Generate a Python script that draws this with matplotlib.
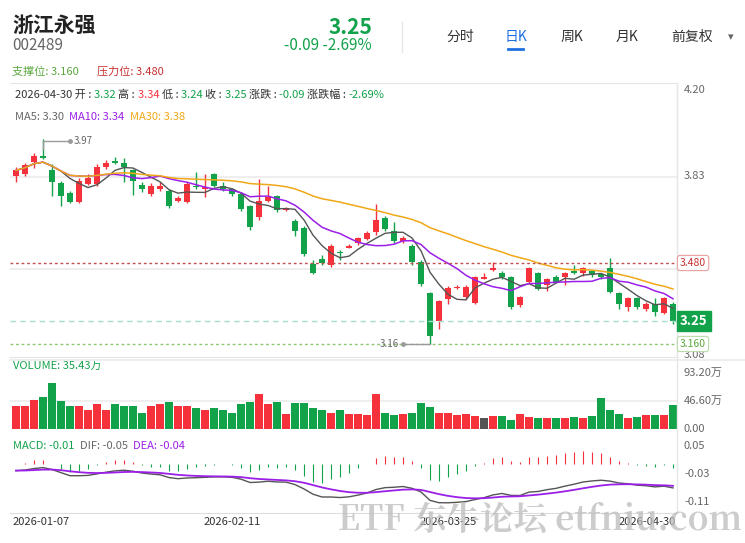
import numpy as np
import pandas as pd
import matplotlib.pyplot as plt

plt.rcParams['font.family'] = ['Noto Sans CJK SC', 'DejaVu Sans']

# 日K数据
opens = [3.824, 3.832, 3.880, 3.903, 3.847, 3.797, 3.755, 3.722, 3.792, 3.792,
         3.858, 3.884, 3.876, 3.847, 3.786, 3.752, 3.770, 3.765, 3.726, 3.722,
         3.783, 3.770, 3.831, 3.783, 3.770, 3.752, 3.704, 3.663, 3.726, 3.745,
         3.690, 3.647, 3.616, 3.476, 3.497, 3.472, 3.522,
         3.540, 3.558, 3.575, 3.604, 3.656, 3.608, 3.568, 3.547, 3.485, 3.360,
         3.250, 3.336, 3.380, 3.344, 3.323, 3.418, 3.452, 3.440, 3.426, 3.314,
         3.406, 3.440, 3.393, 3.426, 3.426, 3.448, 3.440, 3.448, 3.437, 3.459,
         3.360, 3.307, 3.340, 3.298, 3.320, 3.281, 3.320]
closes = [3.845, 3.867, 3.903, 3.896, 3.801, 3.745, 3.722, 3.805, 3.814, 3.858,
          3.876, 3.874, 3.860, 3.805, 3.770, 3.783, 3.783, 3.704, 3.737, 3.792,
          3.778, 3.781, 3.783, 3.770, 3.752, 3.692, 3.623, 3.726, 3.741, 3.687,
          3.696, 3.608, 3.516, 3.442, 3.480, 3.547, 3.518,
          3.547, 3.577, 3.597, 3.650, 3.613, 3.568, 3.577, 3.485, 3.397, 3.190,
          3.330, 3.380, 3.386, 3.386, 3.426, 3.423, 3.459, 3.423, 3.305, 3.344,
          3.459, 3.378, 3.415, 3.406, 3.440, 3.440, 3.459, 3.432, 3.423, 3.367,
          3.320, 3.340, 3.307, 3.320, 3.288, 3.340, 3.250]
highs = [3.860, 3.875, 3.915, 3.970, 3.870, 3.805, 3.765, 3.815, 3.830, 3.870,
         3.885, 3.900, 3.895, 3.850, 3.800, 3.795, 3.800, 3.770, 3.745, 3.800,
         3.840, 3.830, 3.835, 3.800, 3.775, 3.760, 3.710, 3.810, 3.785, 3.750,
         3.700, 3.655, 3.625, 3.490, 3.510, 3.555, 3.530,
         3.555, 3.582, 3.605, 3.712, 3.665, 3.640, 3.585, 3.555, 3.490, 3.365,
         3.335, 3.390, 3.392, 3.392, 3.430, 3.442, 3.485, 3.448, 3.430, 3.350,
         3.464, 3.444, 3.420, 3.432, 3.444, 3.470, 3.464, 3.452, 3.440, 3.500,
         3.365, 3.345, 3.345, 3.325, 3.340, 3.345, 3.325]
lows = [3.800, 3.825, 3.855, 3.890, 3.745, 3.705, 3.715, 3.718, 3.788, 3.785,
        3.852, 3.870, 3.800, 3.750, 3.760, 3.745, 3.765, 3.695, 3.720, 3.715,
        3.770, 3.740, 3.780, 3.762, 3.745, 3.685, 3.612, 3.650, 3.722, 3.680,
        3.685, 3.585, 3.508, 3.435, 3.470, 3.465, 3.490,
        3.540, 3.550, 3.570, 3.590, 3.605, 3.560, 3.560, 3.470, 3.390, 3.160,
        3.220, 3.320, 3.378, 3.338, 3.318, 3.415, 3.448, 3.418, 3.300, 3.308,
        3.400, 3.372, 3.370, 3.400, 3.392, 3.436, 3.430, 3.426, 3.418, 3.360,
        3.300, 3.290, 3.300, 3.290, 3.270, 3.278, 3.240]
volumes = [38, 39, 49, 53, 76, 46, 38, 38, 32, 42, 32, 41, 38, 38, 27, 39, 42,
           45, 38, 39, 35, 32, 35, 31, 27, 42, 45, 59, 41, 45, 25, 43, 43, 35,
           32, 26, 31, 25, 25, 23, 59, 27, 23, 25, 27, 43, 36, 27, 27, 23, 25,
           21, 19, 21, 22, 15, 25, 20, 19, 18, 18, 18, 20, 18, 22, 52, 31, 25,
           18, 20, 23, 23, 23, 40]
date_labels = ['2026-01-07', '2026-02-11', '2026-03-25', '2026-04-30']
date_idx = [0, 24, 48, 73]

RED = '#f5323c'
GREEN = '#12a24a'
GRAY = '#666666'

df = pd.DataFrame({'open': opens, 'high': highs, 'low': lows, 'close': closes, 'vol': volumes})
ma5 = df['close'].rolling(5, min_periods=1).mean()
ma10 = df['close'].rolling(10, min_periods=1).mean()
ma30 = df['close'].rolling(30, min_periods=1).mean()
dif = df['close'].ewm(span=12, adjust=False).mean() - df['close'].ewm(span=26, adjust=False).mean() - 0.02
dea = dif.ewm(span=9, adjust=False).mean()
macd = 2 * (dif - dea)
x = np.arange(len(df))
cols = [RED if c >= o else GREEN for o, c in zip(opens, closes)]

W, H = 745, 543
fig = plt.figure(figsize=(W / 100, H / 100), dpi=100)


def rect(x0, y0, x1, y1):
    return [x0 / W, 1 - y1 / H, (x1 - x0) / W, (y1 - y0) / H]


xlim = ((10 - 16) / 9.0, (677 - 16) / 9.0)

# 价格面板
ax = fig.add_axes(rect(10, 83, 677, 357))
ax.set_xlim(xlim)
ax.set_ylim(3.109, 4.19)
for i in x:
    ax.vlines(i, lows[i], highs[i], color=cols[i], lw=1)
    b0, b1 = sorted([opens[i], closes[i]])
    ax.bar(i, max(b1 - b0, 0.004), bottom=b0, width=0.7, color=cols[i], lw=0)
ax.plot(x, ma5, color='#555555', lw=1)
ax.plot(x, ma10, color='#9b1fe8', lw=1.1)
ax.plot(x, ma30, color='#f0a818', lw=1.1)
for lv in [3.82, 3.458]:
    ax.axhline(lv, color='#eeeeee', lw=1.5, zorder=0)
ax.axhline(3.48, color='#c0504d', lw=1, ls=(0, (2, 2)))
ax.axhline(3.25, color='#a8dcd0', lw=1, ls=(0, (4, 3)))
ax.axhline(3.16, color='#8cc870', lw=1, ls=(0, (2, 2)))
ax.plot([3, 3, 6], [3.93, 3.963, 3.963], color='#999999', lw=1)
ax.plot(6, 3.963, 'o', color='#999999', ms=2.5)
ax.text(6.4, 3.963, '3.97', fontsize=7, color=GRAY, va='center')
ax.plot([43, 46], [3.16, 3.16], color='#999999', lw=1)
ax.plot(43, 3.16, 'o', color='#999999', ms=2.5)
ax.text(42.5, 3.16, '3.16', fontsize=7, color=GRAY, va='center', ha='right')
ax.set_xticks([])
ax.set_yticks([])
for s in ax.spines.values():
    s.set_color('#e6e6e6')
ax.spines['left'].set_visible(False)

# 成交量面板
axv = fig.add_axes(rect(10, 366, 677, 429))
axv.set_xlim(xlim)
axv.set_ylim(0, 104.8)
vcols = list(cols)
vcols[52] = '#555555'
axv.bar(x, df['vol'], width=0.8, color=vcols, lw=0)
axv.axhline(46.6, color='#eeeeee', lw=1.5, zorder=0)
axv.axis('off')

# MACD面板
axm = fig.add_axes(rect(10, 437, 677, 513))
axm.set_xlim(xlim)
axm.set_ylim(-0.141, 0.076)
mcols = [RED if v >= 0 else GREEN for v in macd]
axm.vlines(x, 0, macd, colors=mcols, lw=0.8)
axm.plot(x, dif, color='#555555', lw=1)
axm.plot(x, dea, color='#9b1fe8', lw=1.3)
axm.set_xticks([])
axm.set_yticks([])
for s in axm.spines.values():
    s.set_visible(False)
axm.spines['bottom'].set_visible(True)
axm.spines['bottom'].set_color('#dddddd')

# 分隔线
fig.add_artist(plt.Line2D([10 / W, 1], [1 - 360 / H] * 2, color='#eeeeee', lw=1.5))
fig.add_artist(plt.Line2D([677 / W] * 2, [1 - 83 / H, 1 - 513 / H], color='#e6e6e6', lw=1))


def ft(px, py, s, **kw):
    fig.text(px / W, 1 - py / H, s, **kw)


# 标题区
ft(12, 25, '浙江永强', fontsize=15, fontweight='bold', color='#222222', va='center')
ft(12, 46, '002489', fontsize=11, color=GRAY, va='center')
ft(372, 27, '3.25', fontsize=15, fontweight='bold', color=GREEN, va='center', ha='right')
ft(372, 46, '-0.09 -2.69%', fontsize=11, color=GREEN, va='center', ha='right')
fig.add_artist(plt.Line2D([402 / W] * 2, [1 - 22 / H, 1 - 52 / H], color='#e6e6e6', lw=1))
for tx, lab, c in [(460, '分时', '#333333'), (516, '日K', '#1e6fe0'),
                   (572, '周K', '#333333'), (627, '月K', '#333333'),
                   (692, '前复权', '#333333')]:
    ft(tx, 37, lab, fontsize=10, color=c, va='center', ha='center')
ft(731, 37, '▾', fontsize=8, color=GRAY, va='center', ha='center')
fig.add_artist(plt.Line2D([508 / W, 523 / W], [1 - 49 / H] * 2, color='#1e6fe0', lw=2))
ft(12, 72, '支撑位: 3.160', fontsize=8, color='#5aa83c', va='center')
ft(97, 72, '压力位: 3.480', fontsize=8, color='#c83232', va='center')

# 信息行
parts = [('2026-04-30 开 : ', '#333333'), ('3.32 ', GREEN), ('高 : ', '#333333'),
         ('3.34 ', RED), ('低 : ', '#333333'), ('3.24 ', GREEN), ('收 : ', '#333333'),
         ('3.25 ', GREEN), ('涨跌 : ', '#333333'), ('-0.09 ', GREEN),
         ('涨跌幅 : ', '#333333'), ('-2.69%', GREEN)]
t = ax.text(0.008, 0.975, parts[0][0], transform=ax.transAxes, fontsize=8,
            color=parts[0][1], va='top')
for s, c in parts[1:]:
    t = ax.annotate(s, xycoords=t, xy=(1, 0), va='bottom', fontsize=8, color=c)
t = ax.text(0.008, 0.895, 'MA5: 3.30  ', transform=ax.transAxes, fontsize=8,
            color=GRAY, va='top')
t = ax.annotate('MA10: 3.34  ', xycoords=t, xy=(1, 0), va='bottom', fontsize=8, color='#9b1fe8')
ax.annotate('MA30: 3.38', xycoords=t, xy=(1, 0), va='bottom', fontsize=8, color='#f0a818')

t = axv.text(0.005, 1.0, 'VOLUME: 35.43万', transform=axv.transAxes, fontsize=8,
             color=GREEN, va='center')
t = axm.text(0.005, 0.88, 'MACD: -0.01  ', transform=axm.transAxes, fontsize=8,
             color=GREEN, va='center')
t = axm.annotate('DIF: -0.05  ', xycoords=t, xy=(1, 0), va='bottom', fontsize=8, color=GRAY)
axm.annotate('DEA: -0.04', xycoords=t, xy=(1, 0), va='bottom', fontsize=8, color='#9b1fe8')

# 右侧刻度
for py, s in [(90, '4.20'), (176, '3.83'), (355, '3.08'), (373, '93.20万'),
              (401, '46.60万'), (429, '0.00'), (446, '0.05'), (474, '-0.03'), (502, '-0.11')]:
    ft(684, py, s, fontsize=8, color=GRAY, va='center')
ft(680, 263, '3.480', fontsize=7.5, color='#c83232', va='center',
   bbox=dict(boxstyle='round,pad=0.25', fc='white', ec='#e8a0a0', lw=0.8))
ft(680, 321, '3.25', fontsize=9.5, fontweight='bold', color='white', va='center',
   bbox=dict(boxstyle='square,pad=0.25', fc=GREEN, ec=GREEN))
ft(680, 344, '3.160', fontsize=7.5, color='#5aa83c', va='center',
   bbox=dict(boxstyle='round,pad=0.25', fc='white', ec='#b8dca8', lw=0.8))

# 日期
has = ['left', 'center', 'center', 'right']
for i, s, ha in zip(date_idx, date_labels, has):
    px = 16 + 9.0 * i
    if ha == 'left':
        px = 13
    if ha == 'right':
        px = 676
    ft(px, 522, s, fontsize=8, color='#333333', va='center', ha=ha)

# 水印
ft(540, 520, 'ETF 东牛论坛 etfniu.com', fontsize=24, color='#bbbbbb', alpha=0.75,
   va='center', ha='center', family=['Noto Serif CJK SC', 'Noto Sans CJK SC', 'DejaVu Serif'],
   fontweight='bold')

fig.savefig('out.png', dpi=100, facecolor='white')
